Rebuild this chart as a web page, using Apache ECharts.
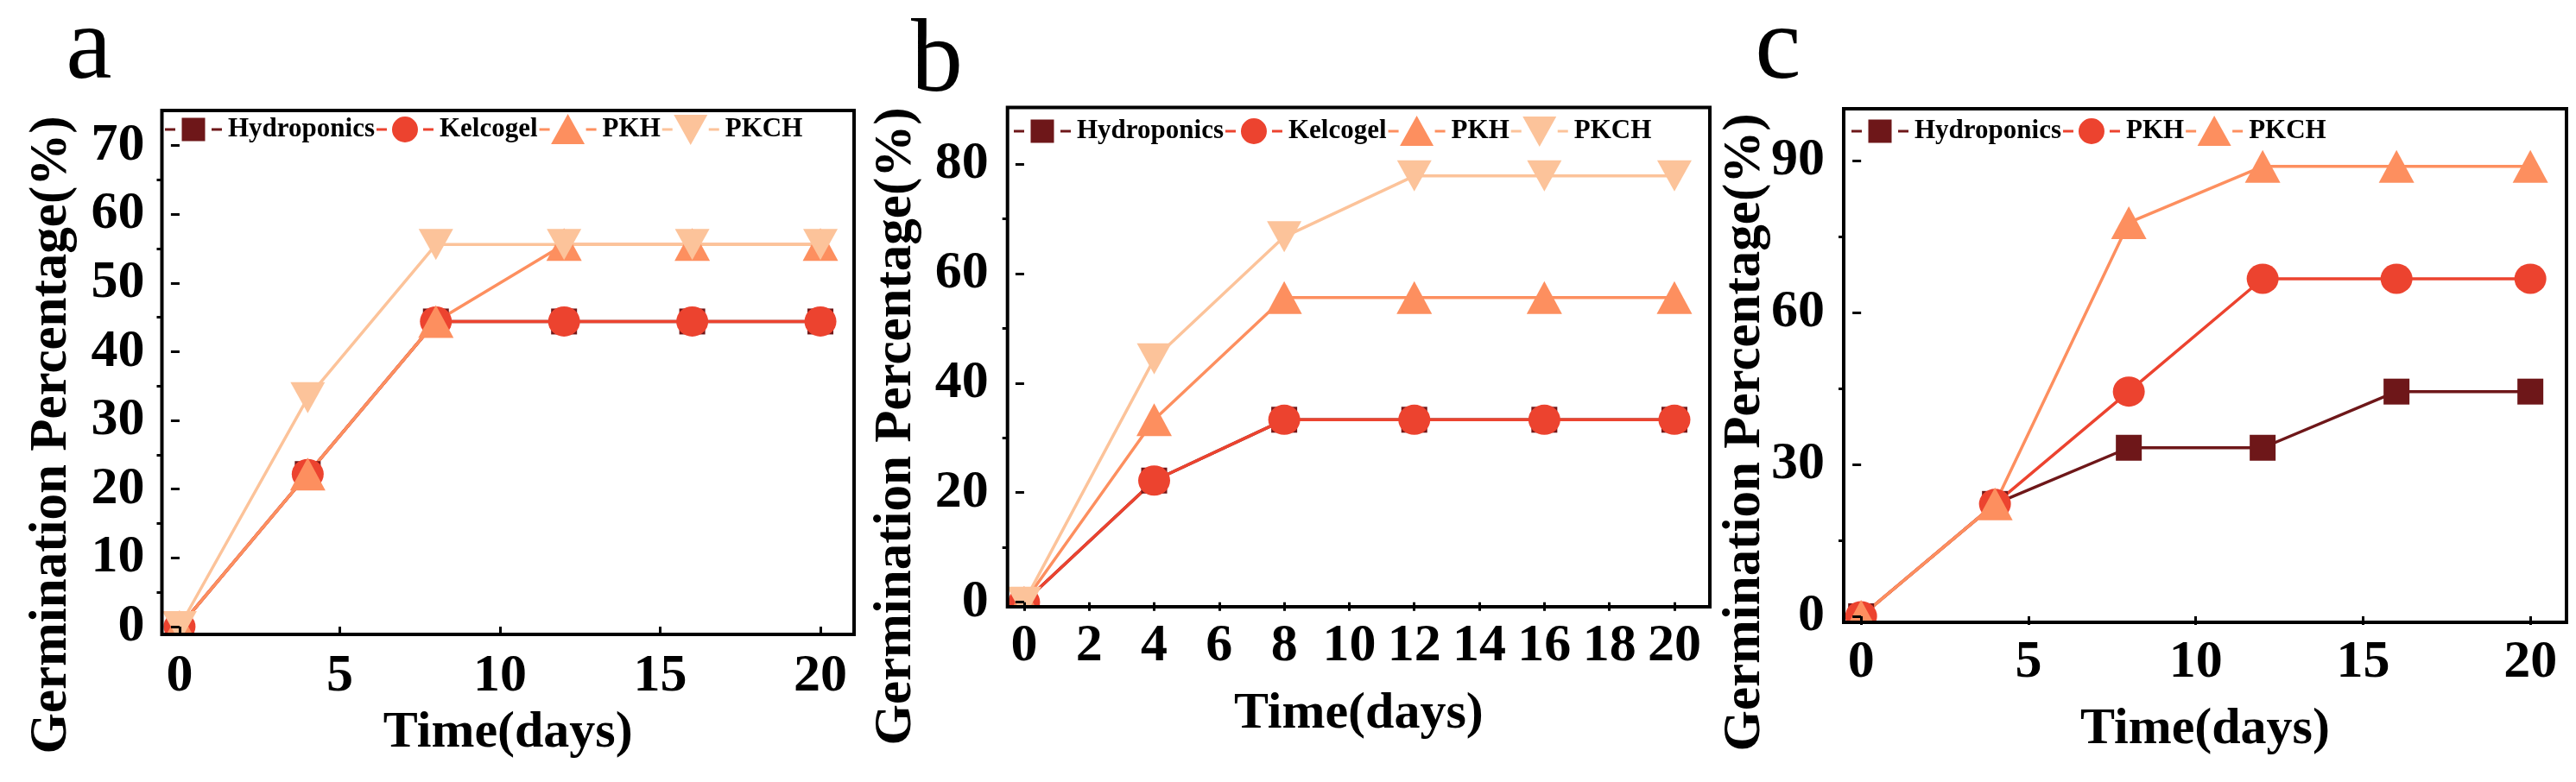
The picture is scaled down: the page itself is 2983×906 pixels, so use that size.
<!DOCTYPE html>
<html>
<head>
<meta charset="utf-8">
<script src="https://cdn.jsdelivr.net/npm/echarts@6/dist/echarts.min.js"></script>
<style>
html,body{margin:0;padding:0;background:#fff;}
#chart{width:2983px;height:906px;}
</style>
</head>
<body>
<div id="chart"></div>
<script>
// ---------------- data ----------------
const days = [0, 4, 8, 12, 16, 20];

const aHydroponics = [0, 22.2, 44.4, 44.4, 44.4, 44.4];
const aKelcogel    = [0, 22.2, 44.4, 44.4, 44.4, 44.4];
const aPKH         = [0, 22.2, 44.4, 55.6, 55.6, 55.6];
const aPKCH        = [0, 33.3, 55.6, 55.6, 55.6, 55.6];

const bHydroponics = [0, 22.2, 33.3, 33.3, 33.3, 33.3];
const bKelcogel    = [0, 22.2, 33.3, 33.3, 33.3, 33.3];
const bPKH         = [0, 33.3, 55.6, 55.6, 55.6, 55.6];
const bPKCH        = [0, 44.4, 66.7, 77.8, 77.8, 77.8];

const cHydroponics = [0, 22.2, 33.3, 33.3, 44.4, 44.4];
const cPKH         = [0, 22.2, 44.4, 66.7, 66.7, 66.7];
const cPKCH        = [0, 22.2, 77.8, 88.9, 88.9, 88.9];

const aXTicks = [0, 5, 10, 15, 20];
const aYTicks = [0, 10, 20, 30, 40, 50, 60, 70];
const aYMinor = [5, 15, 25, 35, 45, 55, 65];
const bXTicks = [0, 2, 4, 6, 8, 10, 12, 14, 16, 18, 20];
const bYTicks = [0, 20, 40, 60, 80];
const bYMinor = [10, 30, 50, 70];
const cXTicks = [0, 5, 10, 15, 20];
const cYTicks = [0, 30, 60, 90];
const cYMinor = [15, 45, 75];

const panelLetters = ['a', 'b', 'c'];
const xTitle = 'Time(days)';
const yTitle = 'Germination Percentage(%)';

// ---------------- styles ----------------
const FONT = '"Liberation Serif", "Times New Roman", serif';
const C_HYD = '#6e1719', C_RED = '#ec432f', C_ORG = '#fd8f5f', C_PEACH = '#fcc39a';

const BB = 'M0,0 L0.01,0 L0,0.01 Z M70,40 L69.99,40 L70,39.99 Z ';
const DASH = 'M2,18.5 L14,18.5 L14,21.5 L2,21.5 Z M56,18.5 L68,18.5 L68,21.5 L56,21.5 Z ';
const ICON = {
  square: 'path://' + BB + DASH + 'M21.5,6.5 L48.5,6.5 L48.5,33.5 L21.5,33.5 Z',
  circle: 'path://' + BB + DASH + 'M20,20 A15,15 0 1,0 50,20 A15,15 0 1,0 20,20 Z',
  tri:    'path://' + BB + DASH + 'M35,2 L54.5,37 L15.5,37 Z',
  itri:   'path://' + BB + DASH + 'M15.5,3 L54.5,3 L35,38 Z'
};
const SYM = {
  square: {symbol: 'rect', symbolSize: [30, 30], symbolRotate: 0},
  circle: {symbol: 'circle', symbolSize: [37, 35], symbolRotate: 0},
  tri:    {symbol: 'triangle', symbolSize: [41, 38], symbolRotate: 0},
  itri:   {symbol: 'triangle', symbolSize: [40, 36], symbolRotate: 180}
};

const panels = [
  {key: 'a', grid: {left: 187.5, top: 128, width: 801.5, height: 607},
   xMin: -0.55, xMax: 21.05, yMin: -1.13, yMax: 75.1,
   xTicks: aXTicks, yTicks: aYTicks, yMinor: aYMinor,
   xMargin: 18, yMargin: 20, nameGap: 77,
   legend: {left: 189, top: 130},
   yTitlePos: [60, 504], letterPos: [103, 58],
   series: [
     {name: 'Hydroponics', data: aHydroponics, color: C_HYD, sym: 'square'},
     {name: 'Kelcogel', data: aKelcogel, color: C_RED, sym: 'circle'},
     {name: 'PKH', data: aPKH, color: C_ORG, sym: 'tri'},
     {name: 'PKCH', data: aPKCH, color: C_PEACH, sym: 'itri'}
   ]},
  {key: 'b', grid: {left: 1166.7, top: 124.5, width: 813.3, height: 578.5},
   xMin: -0.51, xMax: 21.09, yMin: -0.84, yMax: 90.3,
   xTicks: bXTicks, yTicks: bYTicks, yMinor: bYMinor,
   xMargin: 15, yMargin: 22, nameGap: 94,
   legend: {left: 1172, top: 132},
   yTitlePos: [1038, 494], letterPos: [1085, 73],
   series: [
     {name: 'Hydroponics', data: bHydroponics, color: C_HYD, sym: 'square'},
     {name: 'Kelcogel', data: bKelcogel, color: C_RED, sym: 'circle'},
     {name: 'PKH', data: bPKH, color: C_ORG, sym: 'tri'},
     {name: 'PKCH', data: bPKCH, color: C_PEACH, sym: 'itri'}
   ]},
  {key: 'c', grid: {left: 2135, top: 126, width: 837, height: 595},
   xMin: -0.52, xMax: 21.08, yMin: -1.2, yMax: 100.3,
   xTicks: cXTicks, yTicks: cYTicks, yMinor: cYMinor,
   xMargin: 16, yMargin: 22, nameGap: 94,
   legend: {left: 2142, top: 132},
   yTitlePos: [2021, 501], letterPos: [2059, 58],
   series: [
     {name: 'Hydroponics', data: cHydroponics, color: C_HYD, sym: 'square'},
     {name: 'PKH', data: cPKH, color: C_RED, sym: 'circle'},
     {name: 'PKCH', data: cPKCH, color: C_ORG, sym: 'tri'}
   ]}
];

const option = {
  backgroundColor: '#fff',
  animation: false,
  grid: [], xAxis: [], yAxis: [], series: [], legend: [], graphic: []
};

const labelStyle = {fontFamily: FONT, fontWeight: 'bold', fontSize: 62, color: '#000'};

panels.forEach((p, i) => {
  option.grid.push(Object.assign({show: true, z: 10, borderColor: '#000', borderWidth: 4, backgroundColor: 'transparent'}, p.grid));
  option.xAxis.push({
    type: 'value', gridIndex: i, min: p.xMin, max: p.xMax, z: 10,
    axisLine: {show: false}, splitLine: {show: false},
    axisTick: {show: true, customValues: p.xTicks, length: 10, lineStyle: {color: '#000', width: 3}},
    axisLabel: Object.assign({customValues: p.xTicks, margin: p.xMargin, hideOverlap: false}, labelStyle),
    name: xTitle, nameLocation: 'middle', nameGap: p.nameGap,
    nameTextStyle: {fontFamily: FONT, fontWeight: 'bold', fontSize: 60, color: '#000'}
  });
  const yMain = option.yAxis.length;
  option.yAxis.push({
    type: 'value', gridIndex: i, min: p.yMin, max: p.yMax, position: 'left', z: 10,
    axisLine: {show: false}, splitLine: {show: false},
    axisTick: {show: true, customValues: p.yTicks, length: 10, lineStyle: {color: '#000', width: 3}},
    axisLabel: Object.assign({customValues: p.yTicks, margin: p.yMargin, hideOverlap: false}, labelStyle)
  });
  option.yAxis.push({
    type: 'value', gridIndex: i, min: p.yMin, max: p.yMax, position: 'left', offset: 0, z: 10,
    axisLine: {show: false}, splitLine: {show: false},
    axisTick: {show: true, customValues: p.yMinor, length: 6, lineStyle: {color: '#000', width: 3}},
    axisLabel: {show: false}
  });
  const legendData = [];
  p.series.forEach(s => {
    const id = p.key + ':' + s.name;
    const sy = SYM[s.sym];
    option.series.push({
      type: 'line', name: id, xAxisIndex: i, yAxisIndex: yMain,
      data: days.map((d, k) => [d, s.data[k]]),
      symbol: sy.symbol, symbolSize: sy.symbolSize, symbolRotate: sy.symbolRotate,
      showAllSymbol: true, clip: true,
      lineStyle: {color: s.color, width: 3.5},
      itemStyle: {color: s.color, borderWidth: 0},
      emphasis: {disabled: true}
    });
    legendData.push({name: id, icon: ICON[s.sym]});
  });
  option.legend.push({
    left: p.legend.left, top: p.legend.top, orient: 'horizontal', padding: 0,
    itemGap: 0, itemWidth: 70, itemHeight: 40, symbolRotate: 0,
    selectedMode: false, data: legendData,
    itemStyle: {borderWidth: 0},
    formatter: name => name.slice(2),
    textStyle: {fontFamily: FONT, fontWeight: 'bold', fontSize: 31, color: '#000'}
  });
  // white masks just outside the plot frame so markers are cut at the frame (as in the original)
  const g = p.grid;
  option.graphic.push({
    type: 'rect', z: 5, silent: true,
    shape: {x: g.left - 19, y: g.top + g.height, width: g.width + 19, height: 22},
    style: {fill: '#fff'}
  });
  option.graphic.push({
    type: 'rect', z: 5, silent: true,
    shape: {x: g.left - 19, y: g.top, width: 19, height: g.height},
    style: {fill: '#fff'}
  });
  option.graphic.push({
    type: 'text', x: p.yTitlePos[0], y: p.yTitlePos[1], rotation: Math.PI / 2,
    style: {text: yTitle, font: 'bold 61px ' + FONT, fill: '#000', textAlign: 'center', textVerticalAlign: 'middle'}
  });
  option.graphic.push({
    type: 'text', x: p.letterPos[0], y: p.letterPos[1],
    style: {text: panelLetters[i], font: '120px ' + FONT, fill: '#000', textAlign: 'center', textVerticalAlign: 'middle'}
  });
});

const chart = echarts.init(document.getElementById('chart'), null, {renderer: 'canvas'});
chart.setOption(option);
</script>
</body>
</html>
